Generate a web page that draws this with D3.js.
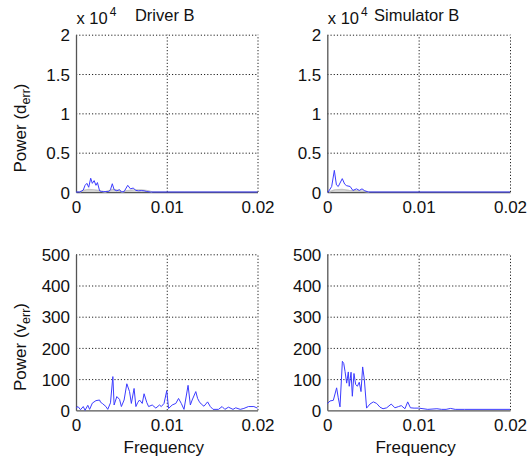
<!DOCTYPE html>
<html><head><meta charset="utf-8">
<script src="https://cdn.jsdelivr.net/npm/d3@7/dist/d3.min.js"></script>
<style>
html,body{margin:0;padding:0;background:#fff;}
text{font-family:"Liberation Sans",Arial,Helvetica,sans-serif;fill:#111;}
</style></head>
<body><svg id="c" width="529" height="461"></svg>
<script>
// ---------- data ----------
const xTicks = [0, 0.01, 0.02];
const xTickLabels = ["0", "0.01", "0.02"];
const yTicksD = [0, 5000, 10000, 15000, 20000];
const yTickLabelsD = ["0", "0.5", "1", "1.5", "2"];
const yTicksV = [0, 100, 200, 300, 400, 500];
const yTickLabelsV = ["0", "100", "200", "300", "400", "500"];
const titles = ["Driver B", "Simulator B"];

// Driver B, d_err power
const drvDFreq = [0, 0.0004, 0.0006, 0.0008, 0.001, 0.0012, 0.0014, 0.00162, 0.0018, 0.002, 0.0022, 0.00236, 0.0026, 0.0028, 0.003, 0.0033, 0.0036, 0.0038, 0.004, 0.0042, 0.0045, 0.0048, 0.005, 0.0053, 0.0057, 0.006, 0.0063, 0.0066, 0.0069, 0.0072, 0.0075, 0.0078, 0.0082, 0.012, 0.02];
const drvDPow  = [0, 0, 100, 250, 850, 1100, 600, 1750, 1100, 1450, 850, 1200, 150, 60, 40, 60, 40, 300, 1050, 300, 150, 300, 0, 50, 850, 400, 500, 200, 150, 180, 150, 60, 0, 0, 0];
const drvDGreyFreq = [0.0004, 0.0008, 0.0014, 0.002, 0.0026, 0.0032, 0.0036, 0.0041, 0.0047, 0.0051, 0.0056, 0.0064, 0.0072, 0.0079, 0.0084];
const drvDGreyPow  = [0, 200, 300, 250, 150, 0, 150, 300, 200, 0, 150, 250, 250, 150, 0];

// Simulator B, d_err power
const simDFreq = [0, 0.0001, 0.00048, 0.00077, 0.001, 0.0012, 0.00164, 0.0019, 0.00212, 0.0025, 0.0028, 0.0032, 0.0035, 0.0038, 0.0041, 0.0045, 0.02];
const simDPow  = [0, 0, 700, 2750, 900, 700, 1700, 1000, 800, 700, 200, 400, 200, 400, 150, 0, 0];
const simDGreyFreq = [0.0002, 0.0008, 0.0016, 0.0024, 0.0032, 0.004, 0.0046];
const simDGreyPow  = [0, 250, 300, 200, 150, 100, 0];

// Driver B, v_err power
const drvVFreq = [0, 0.00022, 0.0005, 0.0008, 0.001, 0.0013, 0.0015, 0.0018, 0.0022, 0.0026, 0.0027, 0.0029, 0.0033, 0.0035, 0.0038, 0.00406, 0.0042, 0.0045, 0.0048, 0.005, 0.0053, 0.0056, 0.0059, 0.0061, 0.0064, 0.0066, 0.0068, 0.007, 0.0073, 0.0075, 0.0078, 0.008, 0.0084, 0.0088, 0.0092, 0.0094, 0.0097, 0.0100, 0.0102, 0.0106, 0.011, 0.0113, 0.0116, 0.0119, 0.01235, 0.0126, 0.0128, 0.0132, 0.0134, 0.0136, 0.0138, 0.0141, 0.0145, 0.0148, 0.0151, 0.0157, 0.0161, 0.0164, 0.0168, 0.0173, 0.0176, 0.0181, 0.0185, 0.019, 0.0196, 0.02];
const drvVPow  = [7, 12, 2, 12, 0, 16, 3, 23, 31, 33, 26, 22, 12, 3, 24, 108, 17, 44, 35, 12, 33, 85, 60, 22, 70, 12, 25, 33, 22, 53, 25, 12, 17, 7, 17, 12, 22, 63, 6, 17, 22, 38, 22, 3, 80, 17, 33, 60, 38, 27, 20, 13, 27, 12, 3, 3, 12, 3, 10, 3, 8, 3, 6, 12, 12, 7];

// Simulator B, v_err power
const simVFreq = [0, 0.0003, 0.00066, 0.00102, 0.0012, 0.00139, 0.00165, 0.0018, 0.00194, 0.00212, 0.0023, 0.0024, 0.0026, 0.00274, 0.00292, 0.0031, 0.00329, 0.0035, 0.00369, 0.00387, 0.00405, 0.0043, 0.00467, 0.00504, 0.0054, 0.00577, 0.0061, 0.0065, 0.0070, 0.0074, 0.0078, 0.0081, 0.0085, 0.0088, 0.0091, 0.0095, 0.01, 0.011, 0.012, 0.0125, 0.013, 0.0135, 0.014, 0.015, 0.02];
const simVPow  = [21, 30, 32, 72, 40, 11, 157, 150, 125, 87, 123, 77, 122, 45, 118, 83, 77, 90, 60, 139, 100, 7, 20, 27, 22, 10, 5, 8, 20, 8, 12, 15, 5, 27, 8, 7, 7, 3, 5, 3, 3, 6, 3, 3, 3];

// ---------- drawing ----------
const svg = d3.select("#c");
const blue = "#3c3cff";
const FS = "17px";

const panels = [
  {x0: 76, x1: 257.5, y0: 34.7, y1: 192, yT: yTicksD, yL: yTickLabelsD, ymax: 20000,
   series: [{f: drvDGreyFreq, p: drvDGreyPow, c: "#c4c4c4", w: 1.6}, {f: drvDFreq, p: drvDPow, c: blue, w: 1}],
   title: titles[0], exp: true, ylab: "d", ylabY: 128, xlab: false},
  {x0: 327.3, x1: 510, y0: 34.7, y1: 192, yT: yTicksD, yL: yTickLabelsD, ymax: 20000,
   series: [{f: simDGreyFreq, p: simDGreyPow, c: "#c4c4c4", w: 1.6}, {f: simDFreq, p: simDPow, c: blue, w: 1}],
   title: titles[1], exp: true, ylab: null, xlab: false},
  {x0: 76, x1: 257.5, y0: 254.3, y1: 410.3, yT: yTicksV, yL: yTickLabelsV, ymax: 500,
   series: [{f: drvVFreq, p: drvVPow, c: blue, w: 1}],
   title: null, exp: false, ylab: "v", ylabY: 347, xlab: true},
  {x0: 327.3, x1: 510, y0: 254.3, y1: 410.3, yT: yTicksV, yL: yTickLabelsV, ymax: 500,
   series: [{f: simVFreq, p: simVPow, c: blue, w: 1}],
   title: null, exp: false, ylab: null, xlab: true}
];

panels.forEach(P => {
  const x = d3.scaleLinear().domain([0, 0.02]).range([P.x0, P.x1]);
  const y = d3.scaleLinear().domain([0, P.ymax]).range([P.y1, P.y0]);
  const g = svg.append("g");

  // grid
  const grid = g.append("g");
  grid.append("g").attr("transform", `translate(0,${P.y1})`)
    .call(d3.axisBottom(x).tickValues(xTicks.slice(1)).tickSize(-(P.y1 - P.y0)).tickFormat(""))
    .call(s => s.select(".domain").remove());
  grid.append("g").attr("transform", `translate(${P.x0},0)`)
    .call(d3.axisLeft(y).tickValues(P.yT.slice(1)).tickSize(-(P.x1 - P.x0)).tickFormat(""))
    .call(s => s.select(".domain").remove());
  grid.selectAll("line").attr("stroke", "#222").attr("stroke-width", 1).attr("stroke-dasharray", "1.2,2");

  // axes
  const ax = g.append("g").attr("transform", `translate(0,${P.y1})`)
    .call(d3.axisBottom(x).tickValues(xTicks).tickFormat((d, i) => xTickLabels[i]).tickSize(0).tickPadding(8).tickSizeOuter(0));
  const ay = g.append("g").attr("transform", `translate(${P.x0},0)`)
    .call(d3.axisLeft(y).tickValues(P.yT).tickFormat((d, i) => P.yL[i]).tickSize(0).tickPadding(6).tickSizeOuter(0));
  [ax, ay].forEach(a => {
    a.select(".domain").attr("stroke", "#555").attr("stroke-width", 1.3);
    a.selectAll("text").style("font-size", FS).attr("fill", "#111")
      .style("font-family", "'Liberation Sans',Arial,sans-serif");
  });
  ax.selectAll("text").attr("dy", null).attr("y", 20.5);
  ay.selectAll("text").attr("dy", "0.36em");

  // series
  const line = d3.line().x(d => x(d[0])).y(d => y(d[1]));
  P.series.forEach(S => {
    const pts = S.f.map((f, i) => [f, S.p[i]]);
    g.append("path").datum(pts).attr("d", line).attr("fill", "none")
      .attr("stroke", S.c).attr("stroke-width", S.w).attr("stroke-linejoin", "round");
  });

  // title & exponent
  if (P.title) {
    g.append("text").attr("x", (P.x0 + P.x1) / 2 - 2).attr("y", 21).attr("text-anchor", "middle")
      .style("font-size", "16.5px").text(P.title);
  }
  if (P.exp) {
    const t = g.append("text").attr("x", P.x0 + 0.5).attr("y", 24).style("font-size", "16.5px");
    t.append("tspan").text("x 10");
    t.append("tspan").attr("dx", 2).attr("dy", -8).style("font-size", "12px").text("4");
  }
  if (P.ylab) {
    const t = g.append("text").attr("transform", `translate(25.5,${P.ylabY}) rotate(-90)`)
      .attr("text-anchor", "middle").style("font-size", FS);
    t.append("tspan").text("Power (" + P.ylab);
    t.append("tspan").attr("dy", 4).style("font-size", "12.5px").text("err");
    t.append("tspan").attr("dy", -4).text(")");
  }
  if (P.xlab) {
    g.append("text").attr("x", (P.x0 + P.x1) / 2 - 3).attr("y", 453).attr("text-anchor", "middle")
      .style("font-size", FS).text("Frequency");
  }
});
</script></body></html>
